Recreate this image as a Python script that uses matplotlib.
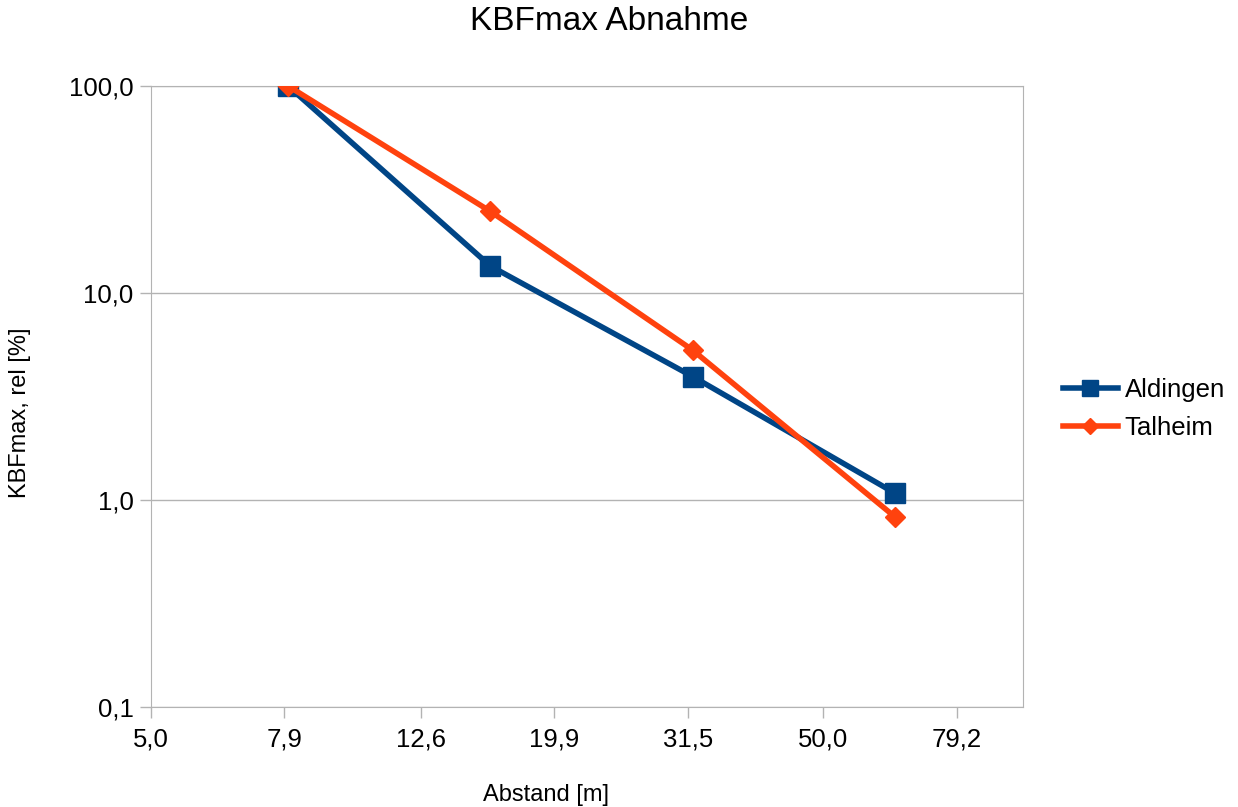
import matplotlib
matplotlib.use("Agg")
import matplotlib.pyplot as plt
from matplotlib.ticker import FixedLocator, NullLocator

plt.rcParams['font.family'] = ['Liberation Sans', 'DejaVu Sans']

abstand = [8, 16, 32, 64]
aldingen = [100.0, 13.5, 3.95, 1.08]
talheim = [100.0, 24.8, 5.3, 0.83]
xticks = [5.0, 7.9, 12.6, 19.9, 31.5, 50.0, 79.2]
xtick_labels = ["5,0", "7,9", "12,6", "19,9", "31,5", "50,0", "79,2"]
yticks = [0.1, 1.0, 10.0, 100.0]
ytick_labels = ["0,1", "1,0", "10,0", "100,0"]

fig = plt.figure(figsize=(12.38, 8.07), dpi=100)
ax = fig.add_axes([151/1238, 100/807, 872/1238, 621/807])

ax.plot(abstand, aldingen, color="#004586", lw=4, marker="s", ms=14, label="Aldingen", zorder=3)
ax.plot(abstand, talheim, color="#ff420e", lw=4, marker="D", ms=10, label="Talheim", zorder=3)

ax.set_xscale("log")
ax.set_yscale("log")
ax.set_xlim(5.0, 5.0 * 10 ** 1.298)
ax.set_ylim(0.1, 100)
ax.xaxis.set_major_locator(FixedLocator(xticks))
ax.xaxis.set_minor_locator(NullLocator())
ax.set_xticklabels(xtick_labels)
ax.yaxis.set_major_locator(FixedLocator(yticks))
ax.yaxis.set_minor_locator(NullLocator())
ax.set_yticklabels(ytick_labels)
ax.tick_params(labelsize=18.5, colors="#b3b3b3", labelcolor="black", length=8, width=1)
ax.tick_params(axis="x", pad=7)
ax.tick_params(axis="y", pad=4.5)
ax.grid(axis="y", color="#b3b3b3", lw=1)
for s in ax.spines.values():
    s.set_color("#b3b3b3")

fig.text(609/1238, 1 - 22/807, "KBFmax Abnahme", fontsize=24, ha="center", va="center")
fig.text(546/1238, 1 - 795/807, "Abstand [m]", fontsize=17, ha="center", va="center")
fig.text(20/1238, 1 - 413/807, "KBFmax, rel [%]", fontsize=17, ha="center", va="center", rotation=90)

leg = ax.legend(loc="center left", bbox_to_anchor=(1050/1238, 1 - 409/807),
                bbox_transform=fig.transFigure, frameon=False, borderpad=0,
                fontsize=18.5, handlelength=2.15, labelspacing=0.58, markerscale=0.8,
                handletextpad=0.25)

fig.savefig("out.png", dpi=100, facecolor="white")
